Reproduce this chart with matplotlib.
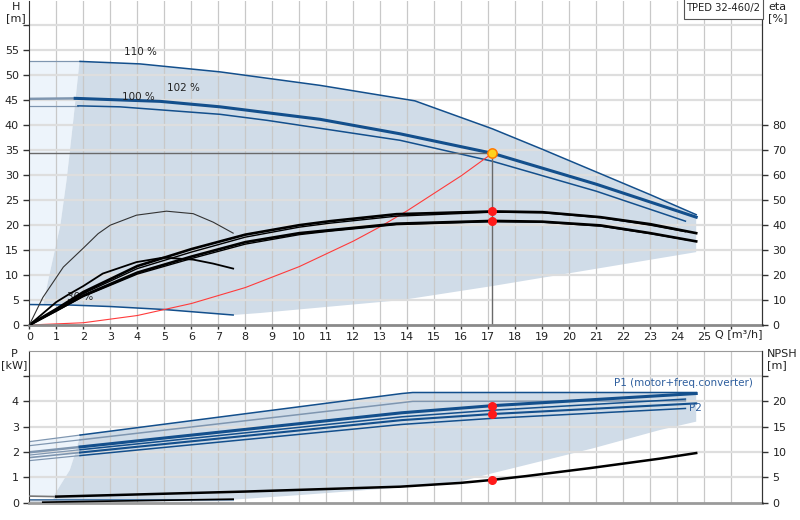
import matplotlib
matplotlib.use("Agg")
import matplotlib.pyplot as plt
from matplotlib.patches import Rectangle

# head curves H [m] vs Q [m3/h]
q_110 = [0, 1.88, 4.1, 7.07, 10.77, 14.28, 17.15, 19, 23, 24.7]
h_110 = [52.8, 52.8, 52.3, 50.7, 48.0, 44.9, 39.3, 35.2, 26.1, 22.1]
q_102 = [0, 1.7, 4.84, 7.07, 10.77, 13.73, 17.15, 21, 24.7]
h_102 = [45.3, 45.4, 44.8, 43.7, 41.2, 38.3, 34.4, 28.2, 21.6]
q_100 = [0, 1.8, 3.36, 7.07, 8.8, 13.73, 17.15, 21, 24.3]
h_100 = [43.9, 43.9, 43.7, 42.2, 41.0, 37.0, 32.8, 26.8, 20.8]
q_30 = [0, 1.5, 3, 5, 7.55]
h_30 = [4.1, 4.0, 3.7, 3.1, 2.0]

# system curve
q_sys = [0, 2, 4, 6, 8, 10, 12, 13, 14, 15.4, 16, 17.15]
h_sys = [0, 0.45, 1.9, 4.3, 7.5, 11.7, 16.8, 19.7, 22.9, 27.8, 29.9, 34.4]

# operating point
q_duty = 17.15
h_duty = 34.4
eta_duty = [45.5, 41.7]
p_duty = [3.83, 3.50]
npsh_duty = 4.5

# envelope of the operating range (H plot)
env_left_q = [0.52, 0.70, 1.15, 1.38, 1.63, 1.86]
env_left_h = [4.05, 8.95, 20.0, 29.0, 41.0, 52.8]
env_low_q = [24.7, 24.7, 17.15, 13.8, 8.54, 7.55]
env_low_h = [22.1, 14.6, 7.8, 5.0, 2.4, 2.0]

# efficiency curves eta [%]
q_eta_a = [0, 1, 2, 4, 6, 8, 10, 11.14, 13.6, 17.15, 19, 21.16, 23, 24.7]
eta_a = [0, 6.4, 13.2, 23.6, 30.4, 36.2, 40.0, 41.6, 44.4, 45.5, 45.2, 43.2, 40.4, 36.8]
q_eta_b = [0, 1, 2, 4, 6, 8, 10, 11.14, 13.6, 17.15, 19, 21.16, 23, 24.3]
eta_b = [0, 6.0, 12.6, 22.6, 29.2, 35.2, 39.2, 40.8, 43.6, 45.2, 45.0, 43.0, 40.0, 37.4]
q_eta_c = [0, 1, 2, 4, 6, 8, 10, 11.14, 13.6, 17.15, 19, 21.16, 23, 24.7]
eta_c = [0, 5.8, 11.8, 21.0, 27.4, 33.2, 36.8, 38.0, 40.6, 41.7, 41.4, 39.9, 36.8, 33.5]
q_eta_d = [0, 1, 2, 4, 6, 8, 10, 11.14, 13.6, 17.15, 19, 21.16, 23, 24.3]
eta_d = [0, 5.6, 11.4, 20.4, 26.6, 32.4, 36.2, 37.6, 40.2, 41.4, 41.2, 39.6, 36.6, 34.2]
q_eta_lo = [0, 0.5, 1.26, 2, 2.55, 3, 3.97, 5.08, 6.07, 6.81, 7.55]
eta_lo = [0, 11, 23.2, 30.8, 36.6, 40.0, 44.0, 45.6, 44.6, 41.2, 36.8]
q_eta_mid = [0, 1, 1.48, 2, 2.72, 3.97, 4.96, 6.07, 6.81, 7.55]
eta_mid = [0, 9.2, 12.4, 15.6, 20.6, 25.2, 27.0, 26.2, 24.6, 22.6]

# power curves P [kW]
q_p1_110 = [0, 1.88, 13.8, 14.2, 24.7]
p1_110 = [2.41, 2.67, 4.31, 4.35, 4.35]
q_p2_110 = [0, 1.88, 13.8, 14.2, 24.3]
p2_110 = [2.25, 2.48, 3.95, 4.0, 4.02]
q_p1_102 = [0, 1.88, 13.8, 17.15, 24.7]
p1_102 = [1.99, 2.20, 3.55, 3.83, 4.31]
q_p1_100 = [0, 1.88, 13.8, 17.15, 24.3]
p1_100 = [1.88, 2.09, 3.39, 3.65, 4.09]
q_p2_102 = [0, 1.88, 13.8, 17.15, 24.7]
p2_102 = [1.78, 1.98, 3.26, 3.50, 3.92]
q_p2_100 = [0, 1.88, 13.8, 17.15, 24.3]
p2_100 = [1.66, 1.86, 3.09, 3.33, 3.72]
q_p_30 = [0, 7.55]
p1_30 = [0.12, 0.12]
p2_30 = [0.08, 0.09]

# envelope (P plot)
penv_left_q = [0.9, 0.9, 1.5, 1.7, 1.82]
penv_left_p = [0.12, 0.26, 1.29, 1.95, 2.4]
penv_low_q = [24.7, 24.7, 23.36, 20.89, 18.4, 17.14, 15.95, 13.73, 10, 7.55]
penv_low_p = [4.35, 3.2, 2.87, 2.15, 1.49, 1.16, 0.83, 0.6, 0.3, 0.12]

# NPSH [m]
q_npsh = [0, 1, 8, 13.73, 15.95, 17.15, 18.4, 20.73, 23.36, 24.7]
npsh = [1.3, 1.2, 2.2, 3.16, 3.9, 4.5, 5.25, 6.8, 8.7, 9.8]
q_npsh_30 = [0.5, 7.55]
npsh_30 = [0.1, 0.7]

BLUE = "#134f8c"
LIGHTLINE = "#7f96b0"
GRAY_FILL = "#d0dce8"
LIGHT_FILL = "#edf4fb"
TXT = "#222222"

fig = plt.figure(figsize=(8, 5.2), dpi=100)
W, H = 800.0, 520.0
x0, x1 = 29.3, 762.0
ax1 = fig.add_axes([x0 / W, (H - 325) / H, (x1 - x0) / W, 324.5 / H])
ax2 = fig.add_axes([x0 / W, (H - 502.7) / H, (x1 - x0) / W, 152 / H])
qmax = (x1 - x0) / 27.0

def grid(ax, hvals):
    for q in range(1, 27):
        ax.axvline(q, color="#c8c8c8", lw=0.9, zorder=1)
    for v in hvals:
        ax.axhline(v, color="#dedede", lw=1.6, zorder=1)

def style(ax, bottom_col):
    ax.set_xlim(0, qmax)
    ax.spines["top"].set_color("#9a9a9a")
    ax.spines["top"].set_linewidth(0.8)
    ax.spines["left"].set_color("#333333")
    ax.spines["right"].set_color("#333333")
    ax.spines["bottom"].set_color(bottom_col)
    ax.spines["bottom"].set_linewidth(2)
    ax.tick_params(direction="out", length=4, width=1, colors="#333333",
                   labelsize=8, labelcolor=TXT)

# ---------------- H / eta plot
ax1.set_ylim(0, 65)
style(ax1, "#8a8a8a")
ax1.spines["top"].set_visible(False)
grid(ax1, range(5, 65, 5))
ax1.set_yticks(range(0, 65, 5))
ax1.set_yticklabels([str(v) for v in range(0, 60, 5)] + [""])
ax1.set_xticks(range(0, 27))
ax1.set_xticklabels([str(v) for v in range(0, 26)] + [""])
ax1.tick_params(axis="x", length=3, pad=2)

light = list(zip([0] + env_left_q + [0], [4.1] + env_left_h + [52.8]))
ax1.add_patch(plt.Polygon(light, closed=True, fc=LIGHT_FILL, ec="none", zorder=0.5))
top = list(zip(q_110[1:], h_110[1:]))
low = list(zip(env_low_q, env_low_h))
back30 = list(zip(q_30[::-1], h_30[::-1]))[1:-1]
poly = list(zip(env_left_q, env_left_h)) + top + low + back30
ax1.add_patch(plt.Polygon(poly, closed=True, fc=GRAY_FILL, ec="none", zorder=0.6))

for q, h, lw in [(q_110, h_110, 1.1), (q_102, h_102, 2.2), (q_100, h_100, 1.1)]:
    ax1.plot(q[:2], h[:2], color=LIGHTLINE, lw=lw * 0.8, zorder=2)
    ax1.plot(q[1:], h[1:], color=BLUE, lw=lw, zorder=2)
ax1.plot(q_30, h_30, color=BLUE, lw=1.1, zorder=2)

ax1.plot(q_sys, h_sys, color="#ff3b3b", lw=0.8, zorder=2)
ax1.plot([0, q_duty], [h_duty, h_duty], color="#6a6a6a", lw=1, zorder=2)
ax1.plot([q_duty, q_duty], [0, h_duty], color="#6a6a6a", lw=1, zorder=2)

for txt, q, h in [("110 %", 4.1, 54.6), ("102 %", 5.7, 47.4), ("100 %", 4.05, 45.7), ("30 %", 1.9, 5.6)]:
    ax1.text(q, h, txt, fontsize=7.5, color=TXT, ha="center", va="center", zorder=3)

ax1r = ax1.twinx()
ax1r.set_ylim(0, 130)
ax1r.set_xlim(0, qmax)
ax1r.set_yticks(range(0, 90, 10))
ax1r.tick_params(direction="out", length=4, width=1, colors="#333333", labelsize=8, labelcolor=TXT)
for s in ["top", "bottom", "left"]:
    ax1r.spines[s].set_visible(False)
ax1r.spines["right"].set_color("#333333")

for q, e, lw in [(q_eta_a, eta_a, 1.9), (q_eta_b, eta_b, 1.0), (q_eta_c, eta_c, 1.9),
                 (q_eta_d, eta_d, 1.0), (q_eta_mid, eta_mid, 1.3)]:
    ax1r.plot(q, e, color="black", lw=lw, zorder=3)
ax1r.plot(q_eta_lo, eta_lo, color="#333333", lw=0.8, zorder=3)
ax1r.scatter([q_duty] * 2, eta_duty, s=30, color="#ff1a1a", zorder=5)
ax1.scatter([q_duty], [h_duty], s=45, fc="#ffd21f", ec="#ff7a00", lw=1.1, zorder=6)

# ---------------- P / NPSH plot
ax2.set_ylim(0, 6)
style(ax2, "#9a9a9a")
grid(ax2, range(1, 6))
ax2.set_yticks(range(0, 6))
ax2.set_yticklabels(["0", "1", "2", "3", "4", ""])
ax2.set_xticks([])

plight = [(0, penv_left_p[1])] + list(zip(penv_left_q[1:], penv_left_p[1:])) + [(q_p1_110[1], p1_110[1]), (0, p1_110[0])]
ax2.add_patch(plt.Polygon(plight, closed=True, fc=LIGHT_FILL, ec="none", zorder=0.5))
ppoly = list(zip(penv_left_q, penv_left_p)) + list(zip(q_p1_110[1:], p1_110[1:])) + list(zip(penv_low_q, penv_low_p))
ax2.add_patch(plt.Polygon(ppoly, closed=True, fc=GRAY_FILL, ec="none", zorder=0.6))

plines = [(q_p1_110, p1_110, BLUE, 1.1), (q_p2_110, p2_110, LIGHTLINE, 1.1),
          (q_p1_102, p1_102, BLUE, 2.2), (q_p1_100, p1_100, BLUE, 1.1),
          (q_p2_102, p2_102, BLUE, 1.5), (q_p2_100, p2_100, BLUE, 1.1)]
for q, p, c, lw in plines:
    ax2.plot(q[:2], p[:2], color=LIGHTLINE, lw=lw * 0.8, zorder=2)
    ax2.plot(q[1:], p[1:], color=c, lw=lw, zorder=2)
ax2.plot(q_p_30, p1_30, color=BLUE, lw=1.1, zorder=2)
ax2.plot(q_p_30, p2_30, color=LIGHTLINE, lw=1.0, zorder=2)
ax2.scatter([q_duty] * 2, p_duty, s=30, color="#ff1a1a", zorder=5)

ax2.text(26.8, 4.71, "P1 (motor+freq.converter)", fontsize=7.5, color="#2f5f9e", ha="right", va="center")
ax2.text(24.45, 3.72, "P2", fontsize=7.5, color="#2f5f9e", ha="left", va="center")

ax2r = ax2.twinx()
ax2r.set_ylim(0, 30)
ax2r.set_xlim(0, qmax)
ax2r.set_yticks(range(0, 30, 5))
ax2r.set_yticklabels(["0", "5", "10", "15", "20", ""])
ax2r.tick_params(direction="out", length=4, width=1, colors="#333333", labelsize=8, labelcolor=TXT)
for s in ["top", "bottom", "left"]:
    ax2r.spines[s].set_visible(False)
ax2r.spines["right"].set_color("#333333")
ax2r.plot(q_npsh[:2], npsh[:2], color="#777777", lw=1.2, zorder=3)
ax2r.plot(q_npsh[1:], npsh[1:], color="black", lw=1.8, zorder=3)
ax2r.plot(q_npsh_30, npsh_30, color="black", lw=1.2, zorder=3)
ax2r.scatter([q_duty], [npsh_duty], s=30, color="#ff1a1a", zorder=5)

# ---------------- axis captions
def ftext(px, py, s, **kw):
    fig.text(px / W, 1 - py / H, s, fontsize=8, color=TXT, **kw)

ftext(16, 2, "H\n[m]", ha="center", va="top", linespacing=1.15)
ftext(768, 2, "eta\n[%]", ha="left", va="top", linespacing=1.15)
ftext(739, 334, "Q [m\u00b3/h]", ha="center", va="center")
ftext(14, 349, "P\n[kW]", ha="center", va="top", linespacing=1.15)
ftext(767, 349, "NPSH\n[m]", ha="left", va="top", linespacing=1.15)

# model box, its top edge sits above the figure
fig.patches.append(Rectangle((684.3 / W, 1 - 19.3 / H), (762.5 - 684.3) / W, 21 / H,
                             transform=fig.transFigure, fc="white", ec="#555555",
                             lw=0.8, zorder=10))
ft = fig.text(723.4 / W, 1 - 8.5 / H, "TPED 32-460/2", fontsize=7.2, color=TXT,
              ha="center", va="center")
ft.set_zorder(11)

fig.savefig("out.png", dpi=100)
